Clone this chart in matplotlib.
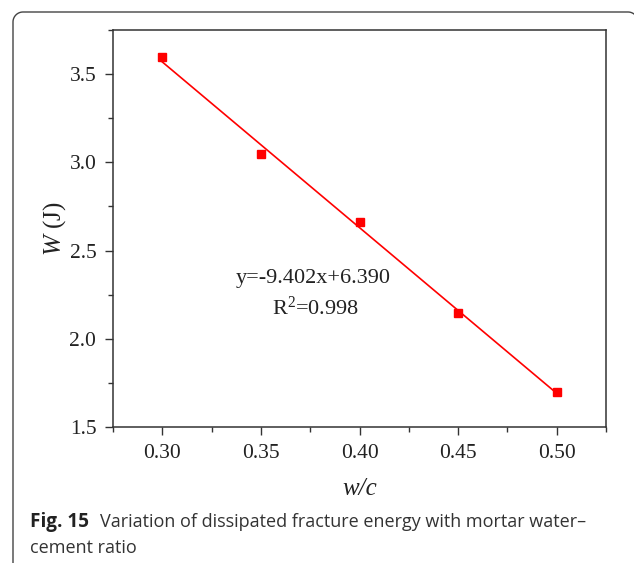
import numpy as np
import matplotlib
matplotlib.use("Agg")
import matplotlib.pyplot as plt
from matplotlib.lines import Line2D
from matplotlib.ticker import MultipleLocator, FormatStrFormatter

# data
wc = [0.30, 0.35, 0.40, 0.45, 0.50]
energy = [3.595, 3.05, 2.66, 2.145, 1.70]
fit_text = ["y=-9.402x+6.390", "R$^{2}$=0.998"]
caption_bold = "Fig. 15"
caption_rest = "Variation of dissipated fracture energy with mortar water\u2013"
caption_line2 = "cement ratio"

serif = "Liberation Serif"
plt.rcParams["mathtext.fontset"] = "custom"
plt.rcParams["mathtext.rm"] = serif
plt.rcParams["mathtext.it"] = serif + ":italic"

W, H = 634, 563
fig = plt.figure(figsize=(W / 100, H / 100), dpi=100)

# outer frame (rounded corners, cut by image edges), in pixel coords
r = 10.0
th1 = np.linspace(np.pi, np.pi / 2, 20)
th2 = np.linspace(np.pi / 2, 0, 20)
left, top, right = 13.0, 12.0, 638.0
xs = np.concatenate([[left], left + r + r * np.cos(th1),
                     right - r + r * np.cos(th2), [right]])
ys = np.concatenate([[H + 20], top + r - r * np.sin(th1),
                     top + r - r * np.sin(th2), [H + 20]])
fig.add_artist(Line2D(xs / W, 1 - ys / H, transform=fig.transFigure,
                      color="#444444", linewidth=1.0, clip_on=False))

ax = fig.add_axes([113 / W, 1 - 427 / H, (606 - 113) / W, (427 - 30) / H])

slope, intercept = np.polyfit(wc, energy, 1)
xf = np.array([wc[0], wc[-1]])
ax.plot(xf, slope * xf + intercept, color="#ff0000", lw=1.2, zorder=2)
ax.plot(wc, energy, linestyle="none", marker="s", markersize=5.8,
        color="#ff0000", zorder=3)

ax.set_xlim(0.275, 0.525)
ax.set_ylim(1.5, 3.75)
ax.xaxis.set_major_locator(MultipleLocator(0.05))
ax.xaxis.set_minor_locator(MultipleLocator(0.025))
ax.yaxis.set_major_locator(MultipleLocator(0.5))
ax.yaxis.set_minor_locator(MultipleLocator(0.25))
ax.xaxis.set_major_formatter(FormatStrFormatter("%.2f"))
ax.yaxis.set_major_formatter(FormatStrFormatter("%.1f"))

for s in ax.spines.values():
    s.set_color("#333333")
    s.set_linewidth(1.1)
ax.tick_params(which="major", direction="out", length=6, width=1.0,
               color="#333333", labelsize=15.5, pad=6)
ax.tick_params(which="minor", direction="out", length=3.5, width=1.0,
               color="#333333")
for lab in ax.get_xticklabels() + ax.get_yticklabels():
    lab.set_fontfamily(serif)
    lab.set_color("#222222")

ax.set_xlabel("w/c", fontfamily=serif, fontstyle="italic", fontsize=18,
              color="#222222", labelpad=11)
ax.set_ylabel("$\\mathit{W}$ (J)", fontfamily=serif, fontsize=18,
              color="#222222", labelpad=1)

ax.text(0.406, 0.375, fit_text[0], transform=ax.transAxes, ha="center",
        va="center", fontfamily=serif, fontsize=16, color="#222222")
ax.text(0.41, 0.298, fit_text[1], transform=ax.transAxes, ha="center",
        va="center", fontfamily=serif, fontsize=16, color="#222222")

# caption
cs = 13.0
t1 = fig.text(30 / W, 1 - 527 / H, caption_bold, fontfamily="Open Sans",
              fontweight="bold", fontsize=cs + 0.6, color="#222222",
              va="baseline")
fig.canvas.draw()
bb = t1.get_window_extent()
fig.text((bb.x1 + 11) / W, 1 - 527 / H, caption_rest, fontfamily="Open Sans",
         fontsize=cs, color="#333333", va="baseline")
fig.text(30 / W, 1 - 553 / H, caption_line2, fontfamily="Open Sans",
         fontsize=cs, color="#333333", va="baseline")

fig.savefig("out.png", dpi=100)
